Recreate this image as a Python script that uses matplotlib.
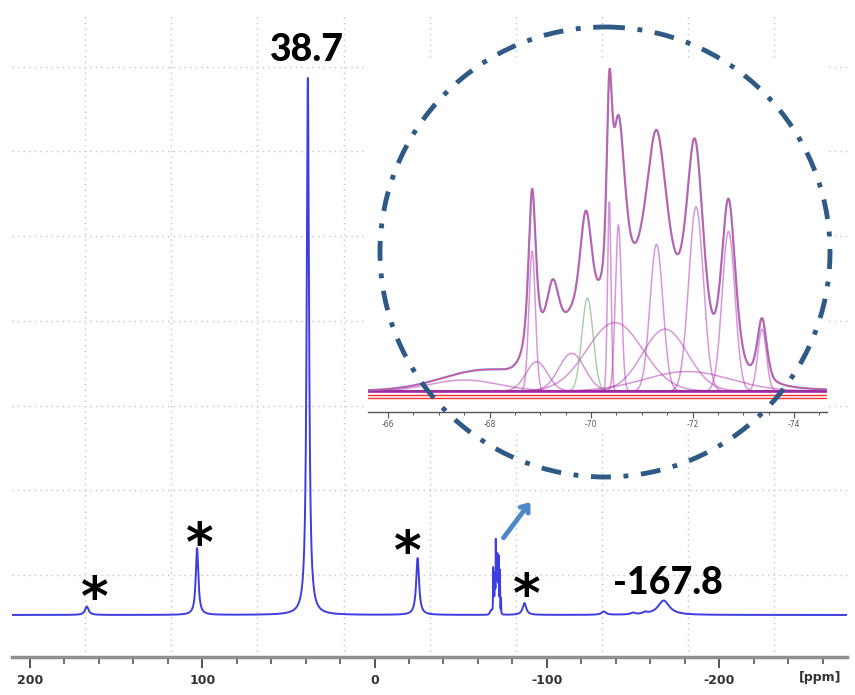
import numpy as np
import matplotlib
matplotlib.use("Agg")
import matplotlib.pyplot as plt
from matplotlib.patches import Circle, Rectangle

# main spectrum peaks (ppm, height in grid units, FWHM ppm)
main_pos = [167.0, 103.0, 38.7, -25.0, -87.0, -133.0, -150.0, -157.0, -167.8]
main_height = [0.10, 0.79, 6.34, 0.67, 0.14, 0.04, 0.02, 0.02, 0.17]
main_width = [2.5, 1.8, 1.6, 2.0, 2.5, 3.0, 3.0, 3.0, 8.0]
cluster_height = 0.91  # height of the -70 ppm cluster in the main plot

# fitted envelope of the -70 ppm cluster (inset, normalised)
fit_pos = [-67.9, -68.84, -68.95, -69.25, -69.6, -69.9, -70.36, -70.54,
           -70.5, -71.29, -71.46, -71.9, -72.05, -72.71, -73.37]
fit_h = [0.06, 0.48, 0.10, 0.19, 0.12, 0.30, 0.485, 0.50,
         0.26, 0.46, 0.17, 0.06, 0.60, 0.52, 0.19]
fit_w = [2.0, 0.17, 0.5, 0.28, 0.6, 0.26, 0.12, 0.30,
         1.4, 0.46, 1.05, 2.0, 0.38, 0.32, 0.22]
fit_eta = [0, 0.6, 0, 0.3, 0, 0.3, 0.4, 0.5, 0, 0.5, 0, 0, 0.4, 0.4, 0.4]

# individual components shown in the inset
comp_pos = [-67.5, -68.84, -68.93, -69.62, -70.36, -70.54, -70.47, -71.29,
            -71.46, -71.9, -72.07, -72.71, -73.37]
comp_h = [0.034, 0.43, 0.09, 0.116, 0.58, 0.51, 0.21, 0.45,
          0.19, 0.06, 0.565, 0.49, 0.19]
comp_w = [1.6, 0.15, 0.5, 0.6, 0.08, 0.14, 1.3, 0.3,
          1.05, 2.0, 0.34, 0.3, 0.2]
green_pos, green_h, green_w = -69.93, 0.285, 0.26

main_ticks = [200, 100, 0, -100, -200]
main_ticklabels = ["200", "100", "0", "-100", "-200"]
inset_ticks = [-66, -68, -70, -72, -74]
inset_ticklabels = ["-66", "-68", "-70", "-72", "-74"]
grid_x = [168, 118, 68, 18, -32, -82, -132, -182, -232]
grid_y = [0.472, 1.472, 2.472, 3.472, 4.472, 5.472, 6.472]

star_x = [162.3, 101.3, -19.4, -88.4]
star_y = [0.18, 0.81, 0.72, 0.21]


def lor(x, x0, h, w):
    return h / (1 + ((x - x0) / (w / 2)) ** 2)


def gau(x, x0, h, w):
    return h * np.exp(-4 * np.log(2) * ((x - x0) / w) ** 2)


def pv(x, x0, h, w, eta):
    return eta * lor(x, x0, h, w) + (1 - eta) * gau(x, x0, h, w)


def envelope(x):
    s = np.zeros_like(x)
    for p, h, w, e in zip(fit_pos, fit_h, fit_w, fit_eta):
        s += pv(x, p, h, w, e)
    return s


fig = plt.figure(figsize=(8.55, 6.95), dpi=100)
ax = fig.add_axes([12 / 855, 38 / 695, 835 / 855, 644 / 695])

x = np.linspace(212, -276, 40000)
y = np.zeros_like(x)
for p, h, w in zip(main_pos, main_height, main_width):
    y += lor(x, p, h, w)
y += cluster_height * envelope(x)

ax.set_axisbelow(True)
for gx in grid_x:
    ax.axvline(gx, color="#c4c4c4", lw=1, ls=(0, (1, 3)), zorder=0.5)
for gy in grid_y:
    ax.axhline(gy, color="#c4c4c4", lw=1, ls=(0, (1, 3)), zorder=0.5)

ax.add_patch(Rectangle((364 / 855, 1 - 432 / 695), 463 / 855, 374 / 695,
                       transform=fig.transFigure, facecolor="white",
                       edgecolor="none", zorder=1, clip_on=False))

ax.plot(x, y, color="#3d3de0", lw=1.4, zorder=2)

ax.set_xlim(210.4, -274.2)
ax.set_ylim(-0.496, 7.107)
for s in ["top", "left", "right"]:
    ax.spines[s].set_visible(False)
ax.spines["bottom"].set_color("#8f8f8f")
ax.spines["bottom"].set_linewidth(2.5)
ax.set_yticks([])
ax.set_xticks(main_ticks)
ax.set_xticklabels(main_ticklabels)
ax.set_xticks(np.arange(200, -275, -20), minor=True)
ax.tick_params(axis="x", which="major", length=8, width=1.3, color="#444444",
               labelsize=9, labelcolor="#333333", pad=4)
ax.tick_params(axis="x", which="minor", length=5, width=1.1, color="#444444")
for lab in ax.get_xticklabels():
    lab.set_fontweight("bold")
ax.text(-258.5, -0.66, "[ppm]", ha="center", va="top", fontsize=9,
        fontweight="bold", color="#333333", clip_on=False)

# labels
ax.text(39.2, 6.67, "38.7", ha="center", va="center", fontsize=27,
        fontweight="black", family="Lato", color="black")
ax.text(-170.3, 0.378, "-167.8", ha="center", va="center", fontsize=27,
        fontweight="black", family="Lato", color="black")
for sx, sy in zip(star_x, star_y):
    ax.text(sx, sy, "*", ha="center", va="center", fontsize=38,
            fontweight="bold", family="DejaVu Sans", color="black")

ax.annotate("", xy=(-91.4, 1.36), xytext=(-73.9, 0.885),
            arrowprops=dict(arrowstyle="->,head_length=0.45,head_width=0.35",
                            color="#4f88c6", lw=3.5))

# inset
ins = fig.add_axes([368 / 855, 1 - 412 / 695, 459 / 855, 352 / 695])
ins.patch.set_alpha(0)
xi = np.linspace(-65.5, -74.8, 6000)
for p, h, w in zip(comp_pos, comp_h, comp_w):
    ins.plot(xi, gau(xi, p, h, w), color="#b030b0", lw=1.1, alpha=0.5)
ins.plot(xi, gau(xi, green_pos, green_h, green_w), color="#70a870", lw=1.0,
         alpha=0.6)
total = envelope(xi)
ins.axhline(-0.012, color="#ff3030", lw=1.0)
ins.axhline(-0.020, color="#ff3030", lw=1.0)
ins.axhline(0.0, color="#a020a0", lw=2.2, alpha=0.8)
ins.plot(xi, total, color="#6a6aff", lw=1.6, alpha=0.85)
ins.plot(xi, total, color="#ff4a4a", lw=0.9, alpha=0.7)
ins.set_xlim(-65.606, -74.65)
ins.set_ylim(-0.064, 1.015)
for s in ["top", "left", "right"]:
    ins.spines[s].set_visible(False)
ins.spines["bottom"].set_color("#555555")
ins.spines["bottom"].set_linewidth(1.0)
ins.set_yticks([])
ins.set_xticks(inset_ticks)
ins.set_xticklabels(inset_ticklabels)
ins.set_xticks(np.arange(-66, -74.6, -0.5), minor=True)
ins.tick_params(axis="x", which="major", length=4, width=0.8, color="#555555",
                labelsize=5.5, labelcolor="#555555", pad=2)
ins.tick_params(axis="x", which="minor", length=2.5, width=0.7,
                color="#555555")

# dash-dot circle around the inset, drawn in pixel space
ov = fig.add_axes([0, 0, 1, 1])
ov.set_xlim(0, 855)
ov.set_ylim(695, 0)
ov.axis("off")
ov.patch.set_alpha(0)
circ = Circle((605, 252), 225, fill=False, edgecolor="#2f5a86", lw=3.5,
              ls=(0, (4.1, 2.6, 1.0, 2.6)))
circ.set_capstyle("butt")
ov.add_patch(circ)

fig.savefig("out.png", dpi=100)
